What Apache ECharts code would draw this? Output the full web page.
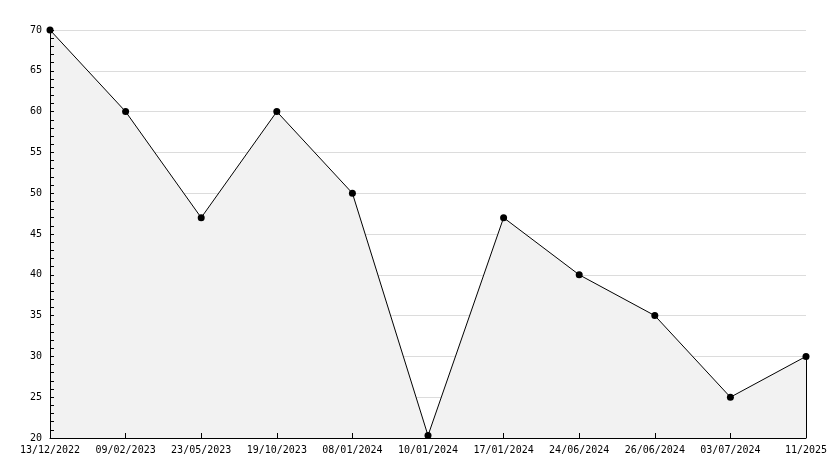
<!DOCTYPE html>
<html>
<head>
<meta charset="utf-8">
<script src="https://cdn.jsdelivr.net/npm/echarts@6/dist/echarts.min.js"></script>
<style>html,body{margin:0;padding:0;background:#fff;}#c{width:834px;height:468px;}</style>
</head>
<body>
<div id="c"></div>
<script>
const categories = ['13/12/2022','09/02/2023','23/05/2023','19/10/2023','08/01/2024','10/01/2024','17/01/2024','24/06/2024','26/06/2024','03/07/2024','11/2025'];
const values = [70, 60, 47, 60, 50, 20.3, 47, 40, 35, 25, 30];
const yMin = 20, yMax = 70, yInterval = 5;

const chart = echarts.init(document.getElementById('c'), null, {renderer: 'canvas'});
const font = 'DejaVu Sans Mono';
const last = categories.length - 1;
chart.setOption({
  animation: false,
  backgroundColor: '#ffffff',
  grid: {left: 50, right: 28, top: 30, bottom: 30, containLabel: false},
  xAxis: {
    type: 'category',
    data: categories,
    boundaryGap: false,
    z: 10,
    axisLine: {lineStyle: {color: '#000', width: 1}},
    axisTick: {inside: true, length: 5, alignWithLabel: true, lineStyle: {color: '#000'}},
    axisLabel: {color: '#000', fontFamily: font, fontSize: 10, margin: 7, interval: 0},
    splitLine: {show: false}
  },
  yAxis: [{
    type: 'value',
    min: yMin, max: yMax, interval: yInterval,
    z: 0,
    axisLine: {show: false},
    axisTick: {show: false},
    axisLabel: {show: false},
    splitLine: {show: true, lineStyle: {color: '#dcdcdc', width: 1}}
  }, {
    type: 'value',
    position: 'left',
    min: yMin, max: yMax, interval: yInterval,
    z: 10,
    axisLine: {show: true, lineStyle: {color: '#000', width: 1}},
    axisTick: {show: true, inside: true, length: 4, lineStyle: {color: '#000'}},
    minorTick: {show: true, splitNumber: 5, length: 4, lineStyle: {color: '#000'}},
    axisLabel: {color: '#000', fontFamily: font, fontSize: 10, margin: 8},
    splitLine: {show: false}
  }],
  series: [{
    type: 'line',
    yAxisIndex: 0,
    data: values,
    symbol: 'circle',
    symbolSize: 7,
    itemStyle: {color: '#000'},
    lineStyle: {color: '#000', width: 1},
    areaStyle: {color: '#f2f2f2', opacity: 1, origin: 'start'},
    z: 3,
    markLine: {
      silent: true,
      symbol: 'none',
      label: {show: false},
      lineStyle: {color: '#000', width: 1, type: 'solid'},
      data: [[{coord: [categories[last], values[last]]}, {coord: [categories[last], yMin]}]]
    }
  }]
});
</script>
</body>
</html>
